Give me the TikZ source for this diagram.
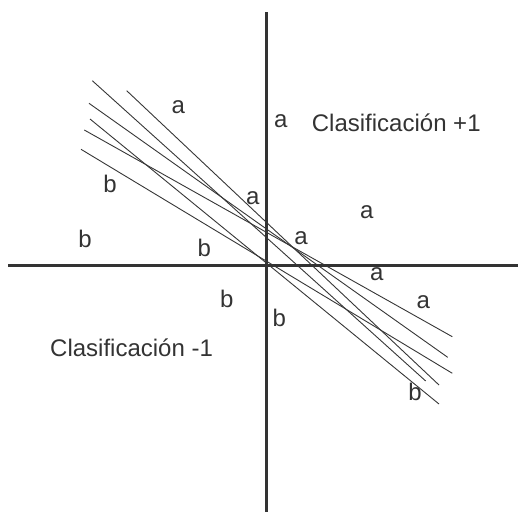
\documentclass[tikz,border=0pt]{standalone}
\usepackage{fontspec}
\setmainfont{Liberation Sans}
\usetikzlibrary{positioning}
\definecolor{ink}{HTML}{333333}
\definecolor{thin}{HTML}{363636}

\begin{document}
\begin{tikzpicture}[x=1pt, y=-1pt,
    axis/.style={draw=ink, line width=3pt},
    sep/.style={draw=thin, line width=0.9pt},
    pt/.style={text=ink, font=\fontsize{24}{28}\selectfont, inner sep=0pt},
    cls/.style={text=ink, font=\fontsize{24}{28}\selectfont, inner sep=0pt}]
    \useasboundingbox (0,0) rectangle (518,512);
    % axes
    \draw[axis] (8,265) -- (518,265);
    \draw[axis] (266,12) -- (266,512);
    % candidate separating lines
    \foreach \xa/\ya/\xb/\yb in {92.3/80.7/425.7/381, 126.7/90.7/439/385,
        89/103.3/447.7/357.3, 90/119/439/404, 84.3/130/452.3/336.7,
        81/149.3/452.3/373.3}
      \draw[sep] (\xa,\ya) -- (\xb,\yb);
    % points of class +1
    \node[pt] (a1) at (178.3,107.3) {a};
    \node[pt] (a2) at (280.7,120.7) {a};
    \node[pt] (a3) at (252.7,197.7) {a};
    \node[pt] (a4) at (366.7,211.7) {a};
    \node[pt] (a5) at (301,238.3) {a};
    \node[pt] (a6) at (376.7,274.3) {a};
    \node[pt] (a7) at (423.3,301.7) {a};
    % points of class -1
    \node[pt] (b1) at (110,184) {b};
    \node[pt] (b2) at (85,239) {b};
    \node[pt] (b3) at (204.3,248.3) {b};
    \node[pt] (b4) at (226.7,299) {b};
    \node[pt] (b5) at (279.3,318.3) {b};
    \node[pt] (b6) at (415,391.7) {b};
    % regions
    \node[cls, anchor=west] (pos) at (311.7,123) {Clasificación +1};
    \node[cls, anchor=west] (neg) at (50,347.7) {Clasificación -1};
\end{tikzpicture}
\end{document}
